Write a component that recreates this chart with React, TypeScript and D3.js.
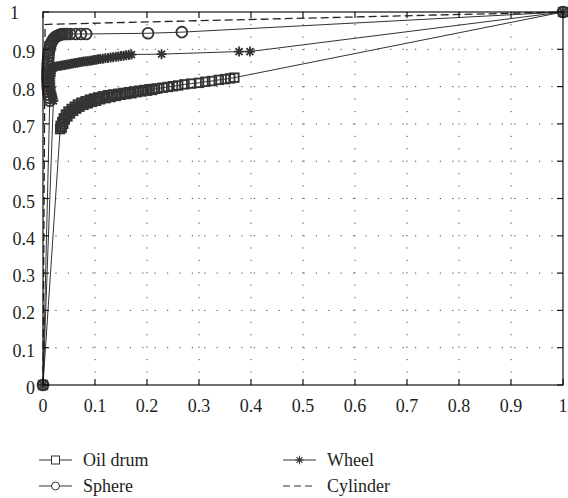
import React from "react";
import * as d3 from "d3";

// axis ticks
const xTicks = [0, 0.1, 0.2, 0.3, 0.4, 0.5, 0.6, 0.7, 0.8, 0.9, 1];
const yTicks = [0, 0.1, 0.2, 0.3, 0.4, 0.5, 0.6, 0.7, 0.8, 0.9, 1];

// series as [x, y]
const oilDrum: [number, number][] = [
  [0, 0],
  [0.033, 0.686], [0.034, 0.695], [0.036, 0.69], [0.037, 0.705], [0.039, 0.7],
  [0.04, 0.715], [0.042, 0.712], [0.044, 0.725], [0.047, 0.72], [0.049, 0.733],
  [0.052, 0.728], [0.055, 0.74], [0.058, 0.735], [0.061, 0.746], [0.064, 0.741],
  [0.067, 0.752], [0.07, 0.746], [0.074, 0.757], [0.078, 0.751], [0.082, 0.761],
  [0.086, 0.755], [0.09, 0.765], [0.094, 0.759], [0.098, 0.768], [0.102, 0.762],
  [0.106, 0.771], [0.11, 0.766], [0.115, 0.774], [0.12, 0.769], [0.125, 0.777],
  [0.13, 0.772], [0.135, 0.779], [0.14, 0.775], [0.145, 0.781], [0.15, 0.778],
  [0.155, 0.783], [0.16, 0.78], [0.165, 0.785], [0.17, 0.782], [0.175, 0.787],
  [0.18, 0.785], [0.185, 0.789], [0.19, 0.787], [0.195, 0.791], [0.2, 0.789],
  [0.205, 0.793], [0.21, 0.791], [0.215, 0.794], [0.22, 0.795],
  [0.23, 0.797], [0.24, 0.799], [0.25, 0.801], [0.26, 0.803], [0.272, 0.806],
  [0.285, 0.808], [0.3, 0.81], [0.312, 0.813], [0.325, 0.815], [0.338, 0.818],
  [0.35, 0.82], [0.36, 0.822], [0.368, 0.824],
  [1, 1],
];

const sphere: [number, number][] = [
  [0, 0],
  [0.013, 0.762], [0.012, 0.77], [0.011, 0.778], [0.01, 0.786], [0.0095, 0.794],
  [0.009, 0.802], [0.009, 0.81], [0.0085, 0.818], [0.0085, 0.826], [0.0085, 0.834],
  [0.0085, 0.842], [0.009, 0.85], [0.009, 0.858], [0.0095, 0.866], [0.01, 0.874],
  [0.0105, 0.882], [0.011, 0.89], [0.012, 0.897], [0.013, 0.904], [0.014, 0.91],
  [0.015, 0.915], [0.017, 0.92], [0.019, 0.925], [0.021, 0.929], [0.023, 0.932],
  [0.026, 0.935], [0.029, 0.937], [0.032, 0.939], [0.035, 0.94], [0.038, 0.941],
  [0.042, 0.941], [0.046, 0.941], [0.052, 0.941], [0.063, 0.941], [0.073, 0.941],
  [0.083, 0.941],
  [0.202, 0.943], [0.267, 0.946],
  [1, 1],
];

const wheel: [number, number][] = [
  [0, 0],
  [0.02, 0.762], [0.019, 0.768], [0.018, 0.774], [0.017, 0.78], [0.016, 0.786],
  [0.015, 0.792], [0.015, 0.798], [0.014, 0.804], [0.014, 0.81], [0.014, 0.816],
  [0.014, 0.822], [0.015, 0.828], [0.015, 0.834], [0.016, 0.84], [0.017, 0.845],
  [0.018, 0.849], [0.02, 0.852], [0.023, 0.853], [0.026, 0.854], [0.03, 0.855],
  [0.034, 0.856], [0.038, 0.857], [0.042, 0.858], [0.046, 0.859], [0.05, 0.86],
  [0.054, 0.861], [0.058, 0.862], [0.062, 0.863], [0.066, 0.864], [0.07, 0.865],
  [0.074, 0.866], [0.078, 0.867], [0.082, 0.868], [0.086, 0.868], [0.09, 0.869],
  [0.094, 0.87], [0.098, 0.871], [0.102, 0.872], [0.106, 0.873], [0.11, 0.874],
  [0.115, 0.875], [0.12, 0.876], [0.125, 0.877], [0.13, 0.878], [0.135, 0.879],
  [0.14, 0.88], [0.145, 0.881], [0.15, 0.882], [0.155, 0.883], [0.16, 0.884],
  [0.165, 0.885], [0.17, 0.886],
  [0.228, 0.887], [0.377, 0.894], [0.398, 0.894],
  [1, 1],
];

const cylinder: [number, number][] = [
  [0, 0], [0.004, 0.966], [0.01, 0.967], [1, 1],
];

const legendLabels = ["Oil drum", "Wheel", "Sphere", "Cylinder"];

const W = 568;
const H = 498;
const ink = "#333";
const textColor = "#231f20";
const face = "Liberation Serif";

const x = d3.scaleLinear().domain([0, 1]).range([43, 563]);
const y = d3.scaleLinear().domain([0, 1]).range([385, 12]);
const line = d3.line<[number, number]>().x(d => x(d[0])).y(d => y(d[1]));

const fmt = (t: number) => String(+t.toFixed(1));

const star = "M-5,0H5M0,-5V5M-3.5,-3.5L3.5,3.5M-3.5,3.5L3.5,-3.5";

function Label(props: { x: number; y: number; anchor?: string; children: React.ReactNode }) {
  return (
    <text
      x={props.x}
      y={props.y}
      textAnchor={props.anchor || "start"}
      fontSize={18}
      fill={textColor}
      fontFamily={face}
      style={{ fontFamily: '"Liberation Serif", serif' }}
    >
      {props.children}
    </text>
  );
}

function Marker({ kind, cx, cy }: { kind: string; cx: number; cy: number }) {
  if (kind === "square") {
    return <rect x={cx - 4.3} y={cy - 4.3} width={8.6} height={8.6} fill="none" stroke={ink} strokeWidth={1.8} />;
  }
  if (kind === "circle") {
    return <circle cx={cx} cy={cy} r={5.4} fill="none" stroke={ink} strokeWidth={1.8} />;
  }
  if (kind === "star") {
    return <path d={star} transform={`translate(${cx},${cy})`} stroke={ink} strokeWidth={1.8} fill="none" />;
  }
  return null;
}

export default function App() {
  const series = [
    { name: legendLabels[0], data: oilDrum, kind: "square" },
    { name: legendLabels[2], data: sphere, kind: "circle" },
    { name: legendLabels[1], data: wheel, kind: "star" },
  ];

  const legend = [
    { label: legendLabels[0], kind: "square", lx: 39, ly: 460 },
    { label: legendLabels[1], kind: "star", lx: 283, ly: 460 },
    { label: legendLabels[2], kind: "circle", lx: 39, ly: 486 },
    { label: legendLabels[3], kind: "dash", lx: 283, ly: 486 },
  ];

  return (
    <svg width={W} height={H} fontFamily={face} style={{ position: "absolute", left: 0, top: 0, background: "#fff" }}>
      {/* grid */}
      <g stroke="#444" strokeWidth={1} strokeDasharray="1.2,11.2">
        {xTicks.slice(1, -1).map(t => (
          <line key={"gx" + t} x1={x(t)} x2={x(t)} y1={y(0)} y2={y(1)} />
        ))}
        {yTicks.slice(1, -1).map(t => (
          <line key={"gy" + t} x1={x(0)} x2={x(1)} y1={y(t)} y2={y(t)} />
        ))}
      </g>

      {/* series lines */}
      {series.map(s => (
        <path key={s.name} d={line(s.data) || ""} fill="none" stroke={ink} strokeWidth={1} />
      ))}
      <path d={line(cylinder) || ""} fill="none" stroke="#222" strokeWidth={1.3} strokeDasharray="8,4" />

      {/* markers */}
      {series.map(s => (
        <g key={s.name + "m"}>
          {s.data.map((d, i) => (
            <Marker key={i} kind={s.kind} cx={x(d[0])} cy={y(d[1])} />
          ))}
        </g>
      ))}

      {/* frame and ticks */}
      <rect x={x(0)} y={y(1)} width={x(1) - x(0)} height={y(0) - y(1)} fill="none" stroke="#111" strokeWidth={1.2} />
      <g stroke="#111" strokeWidth={1.2}>
        {xTicks.map(t => (
          <g key={"tx" + t}>
            <line x1={x(t)} x2={x(t)} y1={y(0)} y2={y(0) - 6} />
            <line x1={x(t)} x2={x(t)} y1={y(1)} y2={y(1) + 6} />
          </g>
        ))}
        {yTicks.map(t => (
          <g key={"ty" + t}>
            <line x1={x(0)} x2={x(0) + 6} y1={y(t)} y2={y(t)} />
            <line x1={x(1)} x2={x(1) - 6} y1={y(t)} y2={y(t)} />
          </g>
        ))}
      </g>

      {/* tick labels */}
      {xTicks.map(t => (
        <Label key={"lx" + t} x={x(t)} y={y(0) + 27} anchor="middle">{fmt(t)}</Label>
      ))}
      {yTicks.map(t => (
        <Label key={"ly" + t} x={t === 1 ? 10 : 35} y={y(t) + (t === 1 ? 7 : 9)} anchor={t === 1 ? "start" : "end"}>{fmt(t)}</Label>
      ))}

      {/* legend */}
      {legend.map(l => (
        <g key={l.label}>
          {l.kind === "dash" ? (
            <line x1={l.lx} x2={l.lx + 33} y1={l.ly} y2={l.ly} stroke={ink} strokeWidth={1.2} strokeDasharray="7,4" />
          ) : (
            <line x1={l.lx} x2={l.lx + 33} y1={l.ly} y2={l.ly} stroke={ink} strokeWidth={1} />
          )}
          {l.kind === "square" && (
            <rect x={l.lx + 12.5} y={l.ly - 4} width={8} height={8} fill="#fff" stroke={ink} />
          )}
          {l.kind === "circle" && (
            <circle cx={l.lx + 16.5} cy={l.ly} r={4} fill="#fff" stroke={ink} />
          )}
          {l.kind === "star" && (
            <path d={star} transform={`translate(${l.lx + 16.5},${l.ly}) scale(0.85)`} stroke={ink} strokeWidth={1.3} fill="none" />
          )}
          <Label x={l.lx + 44} y={l.ly + 6}>{l.label}</Label>
        </g>
      ))}
    </svg>
  );
}
